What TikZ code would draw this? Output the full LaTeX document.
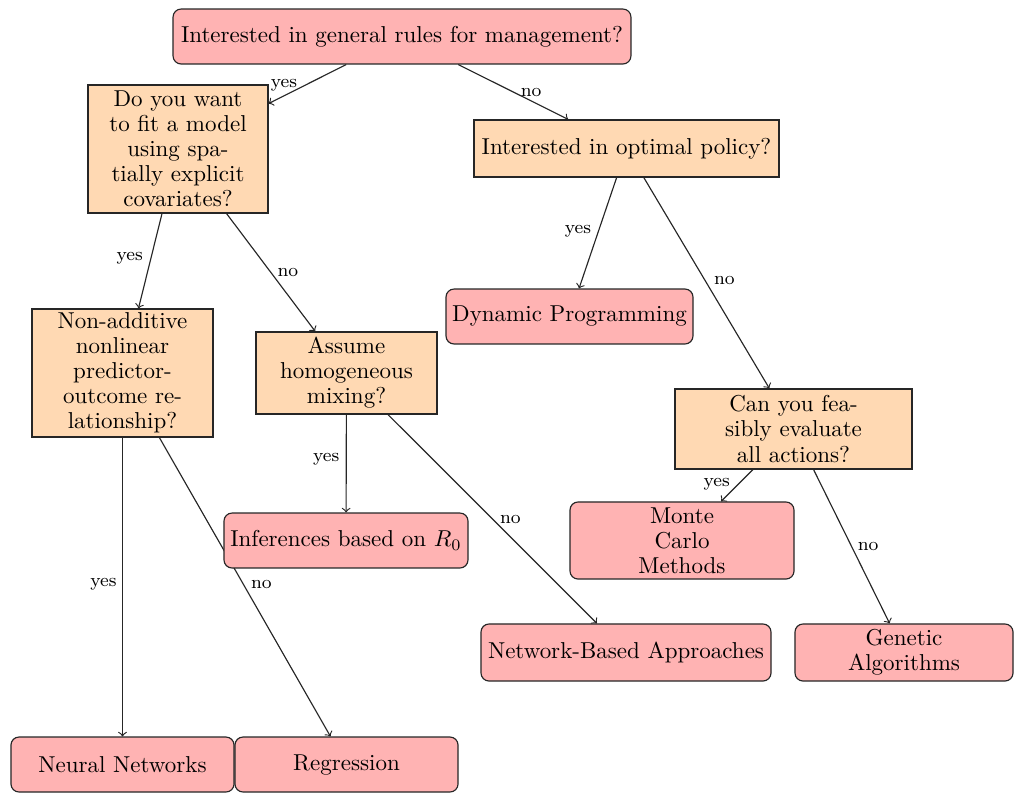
\documentclass[tikz,border=0pt]{standalone}
\usetikzlibrary{backgrounds}
\definecolor{leafpink}{RGB}{255,179,179}
\definecolor{qorange}{RGB}{255,217,179}
\begin{document}
\begin{tikzpicture}[x=0.4348pt,y=-0.4348pt,
 base/.style={draw=black!85, line width=0.5pt, align=center, inner sep=1pt, font=\fontsize{10}{10.9}\selectfont},
 leaf/.style={base, fill=leafpink, rounded corners=3.5pt},
 quest/.style={base, fill=qorange},
 conn/.style={->, line width=0.5pt, draw=black!85},
 lab/.style={font=\footnotesize, inner sep=0pt}]
\useasboundingbox (0,0) rectangle (1015,793);
\node[leaf, minimum width=199.1pt, minimum height=23.9pt] (top) at (402,36.5) {Interested in general rules for management?};
\node[quest, minimum width=78.3pt, minimum height=55.7pt] (do) at (178,149) {Do you want\\to fit a model\\using spa-\\tially explicit\\covariates?};
\node[quest, minimum width=132.6pt, minimum height=24.8pt] (pol) at (626.5,148.5) {Interested in optimal policy?};
\node[quest, minimum width=78.7pt, minimum height=55.7pt] (nonadd) at (122.5,373) {Non-additive\\nonlinear\\predictor-\\outcome re-\\lationship?};
\node[quest, minimum width=78.7pt, minimum height=35.7pt] (assume) at (346.5,373) {Assume\\homogeneous\\mixing?};
\node[leaf, minimum width=107.4pt, minimum height=23.9pt] (dp) at (569.5,316.5) {Dynamic Programming};
\node[quest, minimum width=103pt, minimum height=34.8pt] (can) at (793.5,429) {Can you fea-\\sibly evaluate\\all actions?};
\node[leaf, minimum width=106.1pt, minimum height=23.9pt] (inf) at (346,540.5) {Inferences based on $R_0$};
\node[leaf, minimum width=97.4pt, minimum height=33.5pt] (mc) at (682,540.5) {Monte\\Carlo\\Methods};
\node[leaf, minimum width=126.1pt, minimum height=24.8pt] (net) at (626,652.5) {Network-Based Approaches};
\node[leaf, minimum width=94.8pt, minimum height=24.8pt] (gen) at (904,652.5) {Genetic\\Algorithms};
\node[leaf, minimum width=97pt, minimum height=23.9pt] (nn) at (122.5,764.5) {Neural Networks};
\node[leaf, minimum width=97pt, minimum height=23.9pt] (reg) at (346.5,764.5) {Regression};
\begin{pgfonlayer}{background}
\draw[conn] (top) -- node[lab, pos=0.52, xshift=-9.5pt] {yes} (do);
\draw[conn] (top) -- node[lab, pos=0.5, xshift=7.8pt] {no} (pol);
\draw[conn] (do) -- node[lab, pos=0.47, xshift=-9.2pt] {yes} (nonadd);
\draw[conn] (do) -- node[lab, pos=0.5, xshift=7.4pt] {no} (assume);
\draw[conn] (pol) -- node[lab, pos=0.48, xshift=-9pt] {yes} (dp);
\draw[conn] (pol) -- node[lab, pos=0.49, xshift=8.3pt] {no} (can);
\draw[conn] (nonadd) -- node[lab, pos=0.49, xshift=-8.3pt] {yes} (nn);
\draw[conn] (nonadd) -- node[lab, pos=0.49, xshift=7.9pt] {no} (reg);
\draw[conn] (assume) -- node[lab, pos=0.46, xshift=-8.7pt] {yes} (inf);
\draw[conn] (assume) -- node[lab, pos=0.5, xshift=7.8pt] {no} (net);
\draw[conn] (can) -- node[lab, pos=0.45, xshift=-9.5pt] {yes} (mc);
\draw[conn] (can) -- node[lab, pos=0.5, xshift=7.2pt] {no} (gen);
\end{pgfonlayer}
\end{tikzpicture}
\end{document}
